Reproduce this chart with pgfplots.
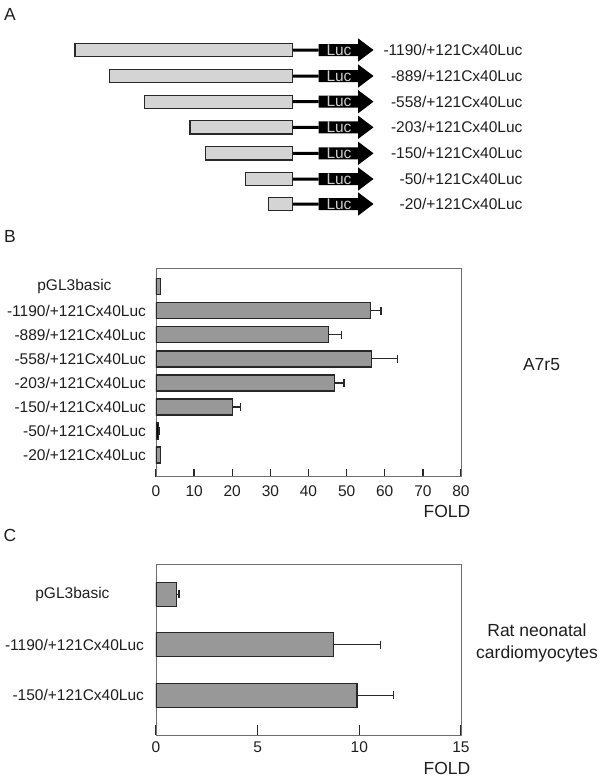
\documentclass[border=0pt]{standalone}
\usepackage{fontspec}
\setmainfont{Liberation Sans}
\usepackage{pgfplots}
\pgfplotsset{compat=1.18}

\definecolor{boxgray}{RGB}{212,212,212}
\definecolor{bargray}{RGB}{152,152,152}
\definecolor{edge}{RGB}{40,40,40}
\definecolor{frame}{RGB}{110,110,110}
\definecolor{txt}{RGB}{30,30,30}
\newcommand{\fs}{\fontsize{15.5}{20}\selectfont}
\newcommand{\fl}{\fontsize{17.5}{22}\selectfont}

\pgfplotsset{panel/.style={scale only axis, xbar, bar shift=0pt, xmin=0, y dir=reverse,
  axis line style={frame, line width=0.9pt},
  tick pos=left, xtick align=inside, ytick style={draw=none},
  xtick style={edge, line width=1.3pt},
  tick label style={font=\fs, text=txt},
  /pgf/number format/assume math mode=true,
  yticklabel style={xshift=1.5pt}},
  bars/.style={fill=bargray, draw=edge, line width=1.3pt},
  errs/.style={error bars/.cd, x dir=plus, x explicit, error mark=|,
    error bar style={edge, line width=1.2pt},
    error mark options={edge, line width=1.2pt, mark size=4pt}}}

\begin{document}
\begin{tikzpicture}[every node/.style={font=\fs, text=txt}]
\useasboundingbox (0pt,0pt) rectangle (602pt,-782pt);

% panel A: constructs
\begin{axis}[at={(0pt,0pt)}, anchor=north west, width=602pt, height=230pt,
  scale only axis, hide axis, xmin=0, xmax=602, ymin=0, ymax=230, y dir=reverse,
  xbar stacked, clip=false]
  \addplot[draw=none, fill=none, bar width=13.3pt] coordinates {(75,50) (109.5,76) (144.5,101.7) (190,127.3) (205.7,153.3) (245.8,179) (268.8,204)};
  \addplot[fill=boxgray, draw=edge, line width=1.1pt, bar width=13.3pt] coordinates {(217.8,50) (183.3,76) (148.3,101.7) (102.8,127.3) (87.1,153.3) (47,179) (24,204)};
  \addplot[fill=black, draw=none, bar width=3pt] coordinates {(25.7,50) (25.7,76) (25.7,101.7) (25.7,127.3) (25.7,153.3) (25.7,179) (25.7,204)};
  \addplot[fill=black, draw=none, bar width=12pt] coordinates {(39.5,50) (39.5,76) (39.5,101.7) (39.5,127.3) (39.5,153.3) (39.5,179) (39.5,204)};
\end{axis}
\begin{axis}[at={(0pt,0pt)}, anchor=north west, width=602pt, height=230pt,
  scale only axis, hide axis, xmin=0, xmax=602, ymin=0, ymax=230, y dir=reverse, clip=false]
  % arrow heads
  \addplot[fill=black, draw=none, unbounded coords=jump] coordinates {
    (358,38.3) (373.5,50) (358,61.7) (nan,nan)
    (358,64.3) (373.5,76) (358,87.7) (nan,nan)
    (358,90) (373.5,101.7) (358,113.4) (nan,nan)
    (358,115.6) (373.5,127.3) (358,139) (nan,nan)
    (358,141.6) (373.5,153.3) (358,165) (nan,nan)
    (358,167.3) (373.5,179) (358,190.7) (nan,nan)
    (358,192.3) (373.5,204) (358,215.7)};
  \pgfplotsinvokeforeach{50,76,101.7,127.3,153.3,179,204}{
    \node[text=white!80!black, inner sep=0pt] at (axis cs:339,#1) {Luc};
  }
\end{axis}
\node[anchor=east] at (526pt,-50pt) {-1190/+121Cx40Luc};
\node[anchor=east] at (526pt,-76pt) {-889/+121Cx40Luc};
\node[anchor=east] at (526pt,-101.7pt) {-558/+121Cx40Luc};
\node[anchor=east] at (526pt,-127.3pt) {-203/+121Cx40Luc};
\node[anchor=east] at (526pt,-153.3pt) {-150/+121Cx40Luc};
\node[anchor=east] at (526pt,-179pt) {-50/+121Cx40Luc};
\node[anchor=east] at (526pt,-204pt) {-20/+121Cx40Luc};

% panel B: A7r5
\begin{axis}[panel, at={(156pt,-476.7pt)}, anchor=south west,
  width=305pt, height=208.4pt, xmax=80, ymin=-0.765, ymax=7.90,
  xtick={0,10,...,80}, major tick length=8pt, bar width=16pt,
  xticklabel style={yshift=-5pt},
  ytick={0,...,7},
  yticklabels={pGL3basic\hspace*{34.5pt}, -1190/+121Cx40Luc, -889/+121Cx40Luc, -558/+121Cx40Luc,
    -203/+121Cx40Luc, -150/+121Cx40Luc, -50/+121Cx40Luc, -20/+121Cx40Luc}]
  \addplot[bars, errs] coordinates {(56.3,1) +- (2.7,0) (45.2,2) +- (3.4,0) (56.5,3) +- (6.9,0)
    (46.8,4) +- (2.5,0) (20.1,5) +- (2.1,0)};
  \addplot[bars] coordinates {(1.2,0) (1.2,7)};
  \addplot[bars, fill=black, errs] coordinates {(0.7,6) +- (0.3,0)};
\end{axis}
\node[font=\fl] at (447pt,-511.7pt) {FOLD};
\node[font=\fl] at (541.5pt,-365pt) {A7r5};

% panel C: cardiomyocytes
\begin{axis}[panel, at={(156pt,-735pt)}, anchor=south west,
  width=305pt, height=171pt, xmax=15, ymin=-0.60, ymax=2.79,
  xtick={0,5,10,15}, major tick length=10pt, bar width=24pt,
  xticklabel style={yshift=-3pt},
  ytick={0,1,2},
  yticklabels={pGL3basic\hspace*{34.5pt}, -1190/+121Cx40Luc, -150/+121Cx40Luc}]
  \addplot[bars, errs] coordinates {(1.0,0) +- (0.13,0) (8.73,1) +- (2.3,0) (9.88,2) +- (1.81,0)};
\end{axis}
\node[font=\fl] at (447pt,-768pt) {FOLD};
\node[font=\fl, align=center] at (537pt,-643pt) {Rat neonatal\\cardiomyocytes};

\node[font=\fl] at (10pt,-14pt) {A};
\node[font=\fl] at (10pt,-236pt) {B};
\node[font=\fl] at (10pt,-535.7pt) {C};
\end{tikzpicture}
\end{document}
